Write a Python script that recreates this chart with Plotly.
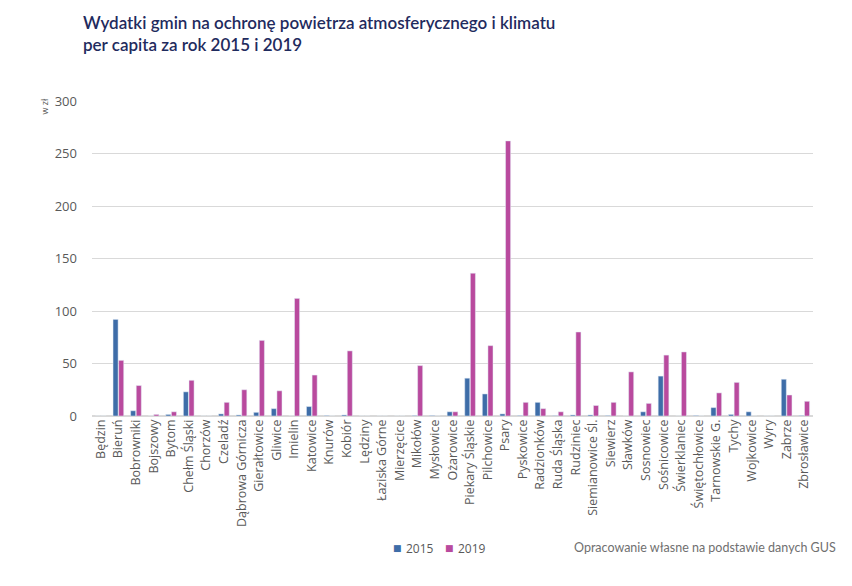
import plotly.graph_objects as go

categories = ["Będzin", "Bieruń", "Bobrowniki", "Bojszowy", "Bytom", "Chełm Śląski", "Chorzów",
              "Czeladź", "Dąbrowa Górnicza", "Gierałtowice", "Gliwice", "Imielin", "Katowice",
              "Knurów", "Kobiór", "Lędziny", "Łaziska Górne", "Mierzęcice", "Mikołów", "Mysłowice",
              "Ożarowice", "Piekary Śląskie", "Pilchowice", "Psary", "Pyskowice", "Radzionków",
              "Ruda Śląska", "Rudziniec", "Siemianowice Śl.", "Siewierz", "Sławków", "Sosnowiec",
              "Sośnicowice", "Świerklaniec", "Świętochłowice", "Tarnowskie G.", "Tychy",
              "Wojkowice", "Wyry", "Zabrze", "Zbrosławice"]

series_names = ["2015", "2019"]
values_2015 = [0, 92, 5, 0, 1.5, 23, 0, 2, 1, 3.5, 7, 0, 9, 0.5, 1, 0, 0, 0, 0.5, 0.5,
               4, 36, 21, 2, 0.5, 13, 0.3, 1, 1, 0.5, 0, 4, 38, 0, 0.5, 8, 1.5, 4, 0, 35, 0.5]
values_2019 = [0, 53, 29, 1.5, 4, 34, 0, 13, 25, 72, 24, 112, 39, 0, 62, 0, 0, 0, 48, 0,
               4, 136, 67, 262, 13, 7, 4, 80, 10, 13, 42, 12, 58, 61, 0, 22, 32, 0, 0, 20, 14]

y_ticks = [0, 50, 100, 150, 200, 250, 300]

COL_2015 = "#3E6DA8"
COL_2019 = "#B94A9E"

W, H = 852, 586
L, R, T, B = 92, 39, 101, 170
PW, PH = W - L - R, H - T - B


def px(x):
    return (x - L) / PW


def py(y):
    return (H - B - y) / PH


fig = go.Figure()
fig.add_trace(go.Bar(x=categories, y=values_2015, name=series_names[0], marker_color=COL_2015,
                     showlegend=False))
fig.add_trace(go.Bar(x=categories, y=values_2019, name=series_names[1], marker_color=COL_2019,
                     showlegend=False))

fig.update_layout(
    width=W, height=H,
    paper_bgcolor="white", plot_bgcolor="white",
    margin=dict(l=L, r=R, t=T, b=B, autoexpand=False),
    barmode="group", bargap=0.36, bargroupgap=0.1,
    font=dict(family="Open Sans", size=12, color="#595959"),
    title=dict(text="Wydatki gmin na ochronę powietrza atmosferycznego i klimatu<br>per capita za rok 2015 i 2019",
               x=83/W, xanchor="left", xref="container", y=1-29/H, yanchor="top",
               font=dict(family="Lato", size=17, color="#1F2B5E", weight=600)),
    showlegend=False,
)
fig.update_xaxes(tickangle=-90, showgrid=False, showline=False, ticks="", automargin=False,
                 tickfont=dict(size=12.5, color="#595959"))
fig.update_yaxes(range=[0, 300], tickvals=y_ticks, showgrid=True, gridcolor="#D9D9D9",
                 zeroline=True, zerolinecolor="#D9D9D9", ticks="", ticklabelstandoff=14,
                 automargin=False, tickfont=dict(size=13, color="#595959"))

# legend (compact, as in the reference)
for sq_x, txt_x, name, col in [(397, 404, series_names[0], COL_2015),
                               (449, 456, series_names[1], COL_2019)]:
    fig.add_annotation(text="■", xref="paper", yref="paper", x=px(sq_x), y=py(548),
                       xanchor="center", yanchor="middle", showarrow=False,
                       font=dict(family="DejaVu Sans", size=9, color=col))
    fig.add_annotation(text=name, xref="paper", yref="paper", x=px(txt_x), y=py(548),
                       xanchor="left", yanchor="middle", showarrow=False,
                       font=dict(size=12, color="#595959"))

fig.add_annotation(text="w zł", xref="paper", yref="paper", x=px(44), y=py(96),
                   xanchor="center", yanchor="top", textangle=-90, showarrow=False,
                   font=dict(size=9, color="#595959"))
fig.add_annotation(text="Opracowanie własne na podstawie danych GUS", xref="paper", yref="paper",
                   x=px(838), y=py(547), xanchor="right", yanchor="middle", showarrow=False,
                   font=dict(family="Lato", size=12.5, color="#707070"))

fig.write_html("out.html", config={"displayModeBar": False},
               post_script="document.body.style.margin='0';")
